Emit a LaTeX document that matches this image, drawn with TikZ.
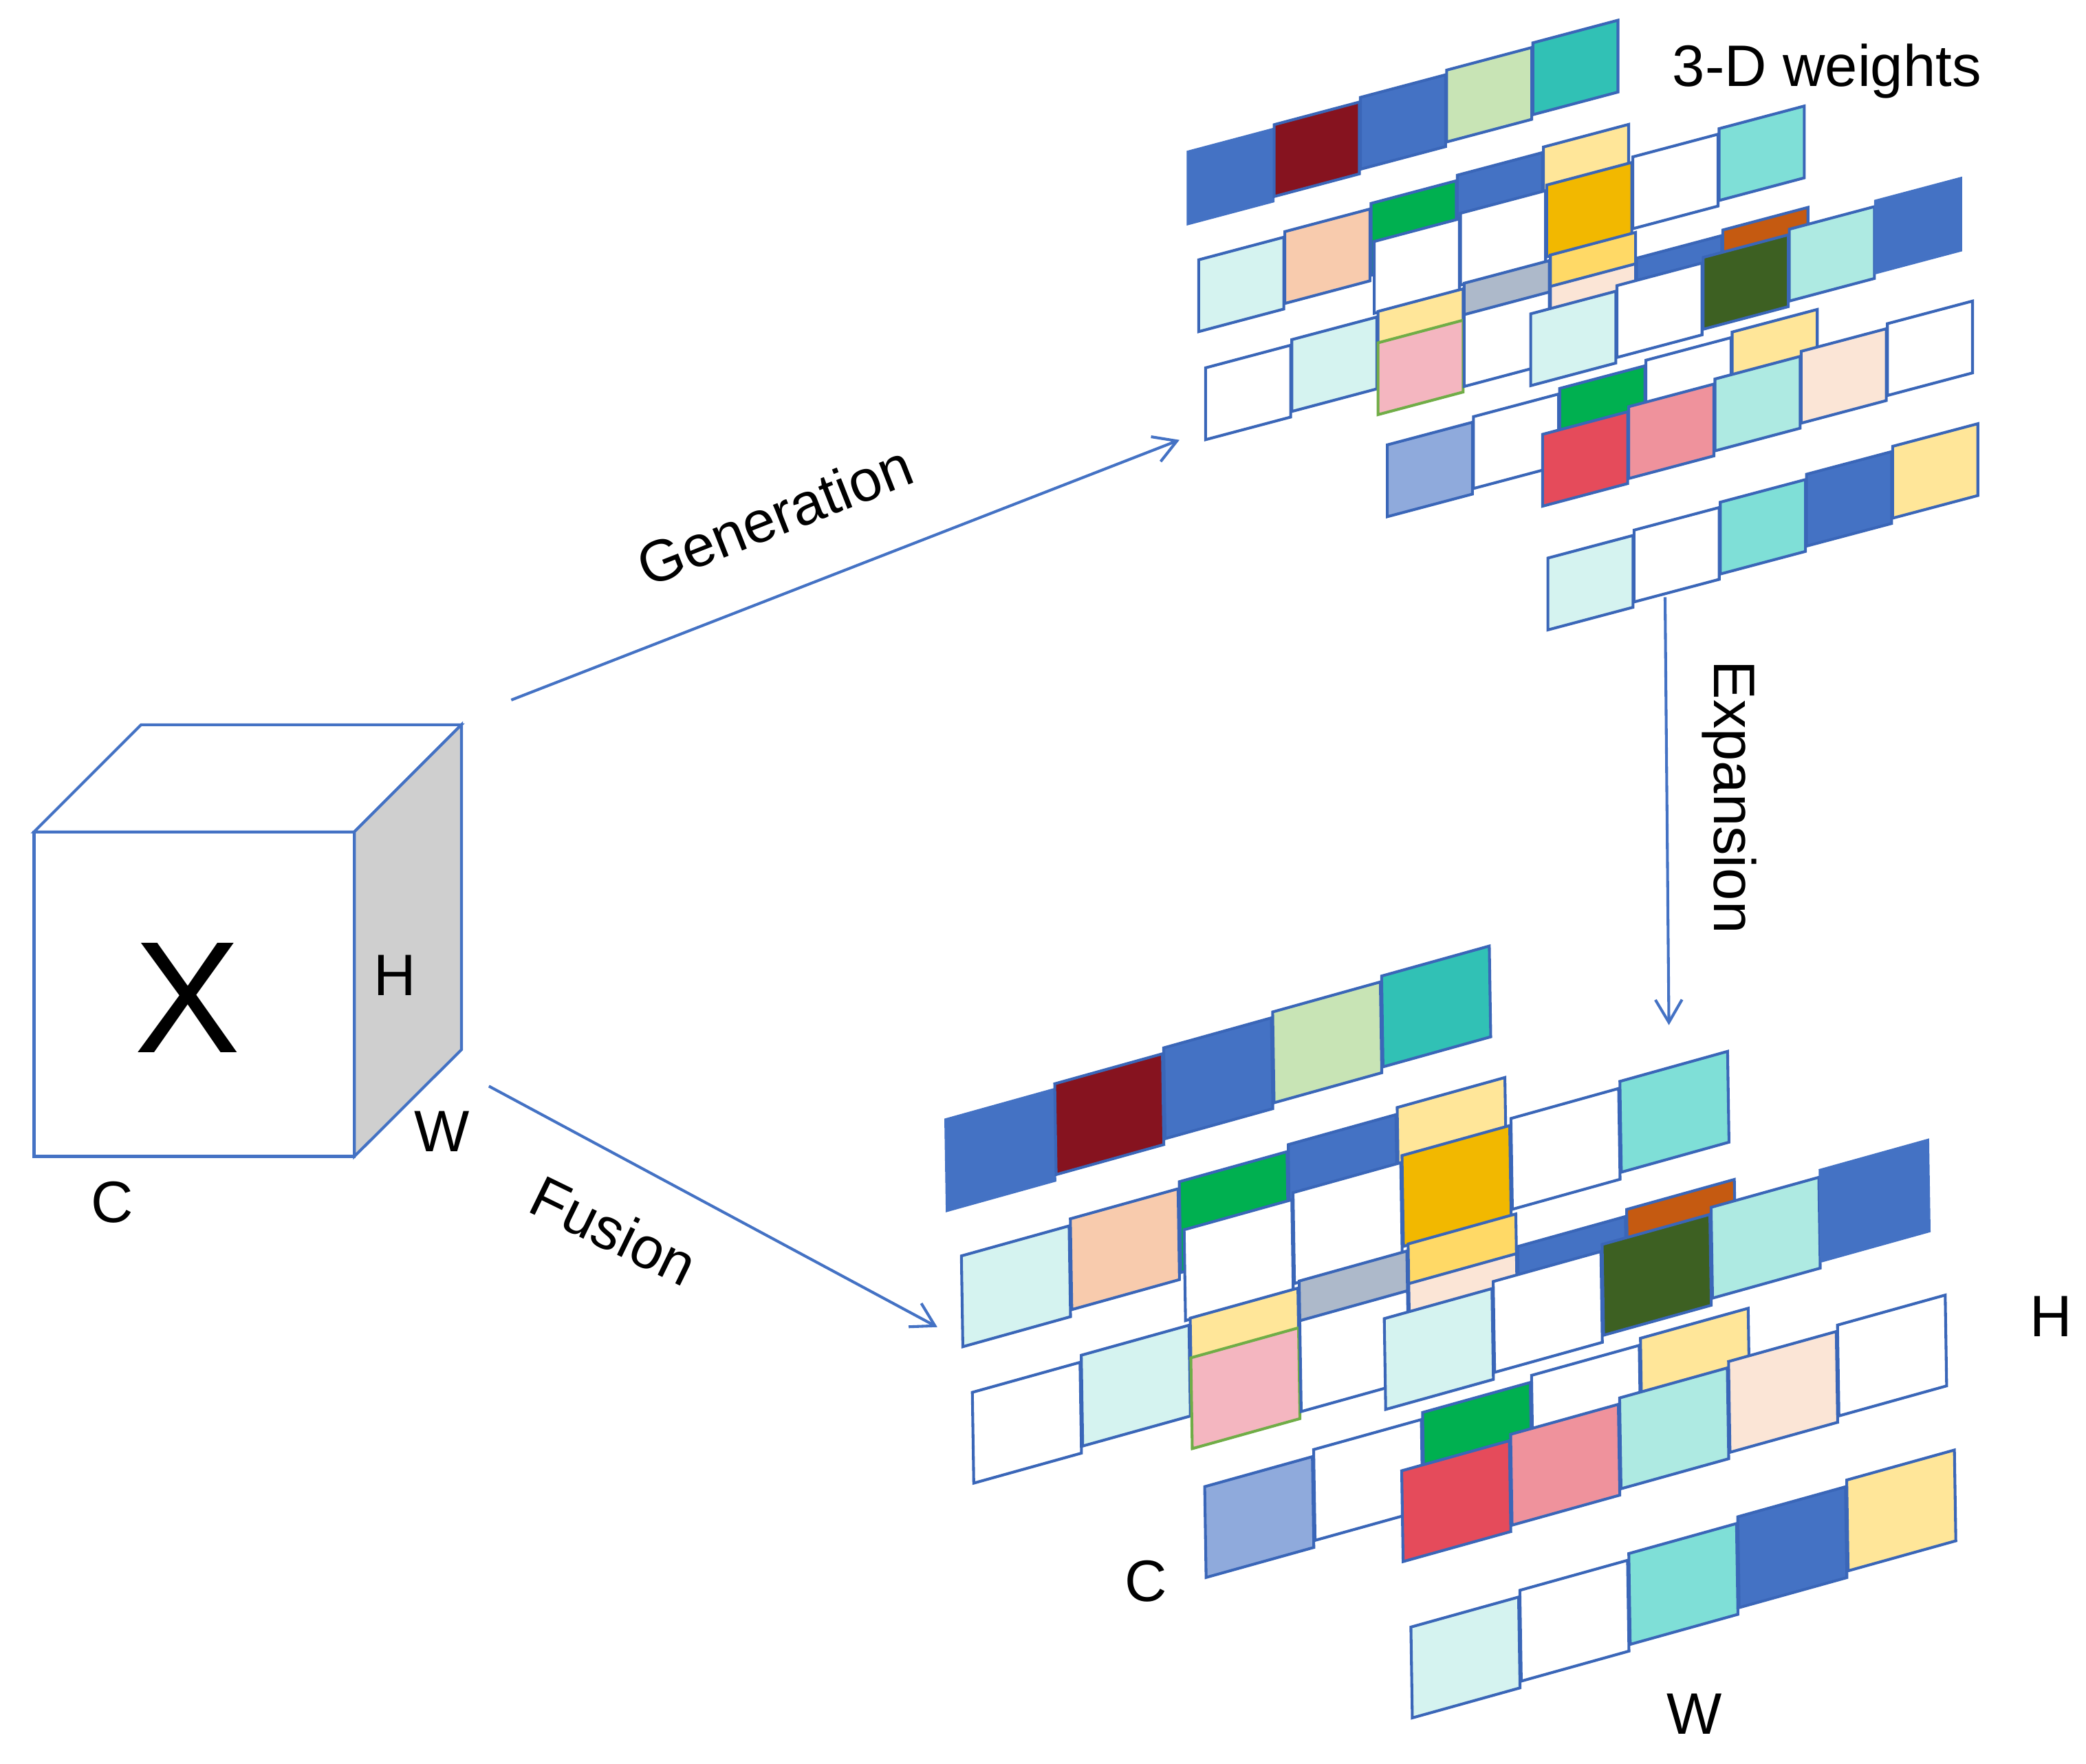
\documentclass[tikz,border=0pt]{standalone}
\usepackage{fontspec}
\setmainfont{Liberation Sans}
\usetikzlibrary{arrows.meta}

\definecolor{tileline}{HTML}{3A66B8}
\definecolor{cubeblue}{HTML}{4472C4}
\definecolor{cubegray}{HTML}{CFCFCF}
\definecolor{wblue}{HTML}{4472C4}
\definecolor{wdarkred}{HTML}{86131F}
\definecolor{wltgreen}{HTML}{C8E4B5}
\definecolor{wteal}{HTML}{31C1B5}
\definecolor{wltcyan}{HTML}{D5F3F0}
\definecolor{wpeach}{HTML}{F8CBAD}
\definecolor{wgreen}{HTML}{00B050}
\definecolor{wltyellow}{HTML}{FFE699}
\definecolor{wamber}{HTML}{F2B800}
\definecolor{wtealmid}{HTML}{7FDFD7}
\definecolor{wgray}{HTML}{ADB9CA}
\definecolor{wgold}{HTML}{FFD966}
\definecolor{wpink}{HTML}{F4B6C0}
\definecolor{wpinkline}{HTML}{70AD47}
\definecolor{wpeachlt}{HTML}{FBE5D6}
\definecolor{worange}{HTML}{C55A11}
\definecolor{wdkgreen}{HTML}{3D6022}
\definecolor{wtealpale}{HTML}{AEEAE2}
\definecolor{wperi}{HTML}{8FAADC}
\definecolor{wred}{HTML}{E54B5B}
\definecolor{wsalmon}{HTML}{EF929C}

\newcommand{\tile}[4][tileline]{%
  \filldraw[fill=#4, draw=#1, line width=0.6pt] (#2,#3) -- ++(64,-17) -- ++(0,54) -- ++(-64,17) -- cycle;}

\newcommand{\weightset}{%
  \tile[wblue]{893}{114.2}{wblue}
  \tile{957.8}{93.7}{wdarkred}
  \tile{1022.6}{73.2}{wblue}
  \tile{1087.4}{52.7}{wltgreen}
  \tile{1152.2}{32.2}{wteal}
  \tile{901}{195.3}{wltcyan}
  \tile{965.8}{174.1}{wpeach}
  \tile{1030.6}{152.9}{wgreen}
  \tile{1095.4}{131.7}{wblue}
  \tile{1160.2}{110.5}{wltyellow}
  \tile{1033}{181.5}{white}
  \tile{1097.8}{160.3}{white}
  \tile{1162.6}{139.1}{wamber}
  \tile{1227.4}{117.9}{white}
  \tile{1292.2}{96.7}{wtealmid}
  \tile{906.2}{276.5}{white}
  \tile{971}{255.3}{wltcyan}
  \tile{1035.8}{234.1}{wltyellow}
  \tile{1100.6}{212.9}{wgray}
  \tile{1165.4}{191.7}{wgold}
  \tile[wpinkline]{1035.8}{257.7}{wpink}
  \tile{1100.6}{236.5}{white}
  \tile{1165.4}{215.3}{wpeachlt}
  \tile{1230.2}{194.1}{wblue}
  \tile{1295}{172.9}{worange}
  \tile{1150.6}{235.9}{wltcyan}
  \tile{1215.4}{214.7}{white}
  \tile{1280.2}{193.5}{wdkgreen}
  \tile{1345}{172.3}{wtealpale}
  \tile[wblue]{1409.8}{151.1}{wblue}
  \tile{1042.8}{334.4}{wperi}
  \tile{1107.6}{313.2}{white}
  \tile{1172.4}{292}{wgreen}
  \tile{1237.2}{270.8}{white}
  \tile{1302}{249.6}{wltyellow}
  \tile{1159.5}{326.5}{wred}
  \tile{1224.3}{305.7}{wsalmon}
  \tile{1289.1}{284.9}{wtealpale}
  \tile{1353.9}{264.1}{wpeachlt}
  \tile{1418.7}{243.3}{white}
  \tile{1163.5}{419.5}{wltcyan}
  \tile{1228.3}{398.5}{white}
  \tile{1293.1}{377.5}{wtealmid}
  \tile{1357.9}{356.5}{wblue}
  \tile{1422.7}{335.5}{wltyellow}
}

\begin{document}
\begin{tikzpicture}[x=0.01cm, y=-0.01cm,
    every node/.style={font=\fontsize{12.5}{15}\selectfont},
    flow/.style={draw=cubeblue, line width=0.6pt, -{Straight Barb[length=1.7mm,width=2mm]}}]
\useasboundingbox (0,0) rectangle (1568,1326);

\filldraw[fill=white, draw=cubeblue, line width=0.6pt] (25.6,625.3) -- (106.1,544.8) -- (346.9,544.8) -- (266.4,625.3) -- cycle;
\filldraw[fill=cubegray, draw=cubeblue, line width=0.6pt] (266.4,625.3) -- (346.9,544.8) -- (346.9,789) -- (266.4,869.3) -- cycle;
\filldraw[fill=white, draw=cubeblue, line width=0.6pt] (25.6,625.3) rectangle (266.4,869.3);
\node (x) at (141.2,749.9) {\fontsize{34}{40}\selectfont X};
\node (cubeh) at (296.8,733.4) {H};
\node (cubew) at (332.4,850.8) {W};
\node (cubec) at (84.4,904) {C};

\weightset
\begin{scope}[shift={(710.9,841.7)}, x={(0.0127cm,0.00017cm)}, y={(0.0002cm,-0.01264cm)}, shift={(-893,-114.2)}]
\weightset
\end{scope}

\node[anchor=base west, inner sep=0pt] (title) at (1256.5,64.7) {3-D weights};
\node (setc) at (861.4,1188.5) {C};
\node (seth) at (1541.6,989.6) {H};
\node (setw) at (1273.5,1288.3) {W};

\coordinate (genfrom) at (384.3,526.2);
\coordinate (gento) at (886.6,330.7);
\coordinate (fusfrom) at (367.5,816.5);
\coordinate (fusto) at (704.6,997.6);
\coordinate (expfrom) at (1251.6,448.9);
\coordinate (expto) at (1254.5,770.6);
\draw[flow] (genfrom) -- (gento);
\draw[flow] (fusfrom) -- (fusto);
\draw[flow] (expfrom) -- (expto);
\node[rotate=21.5, anchor=base] (gen) at (588,402) {Generation};
\node[rotate=-26, anchor=base] (fus) at (454.6,939.2) {Fusion};
\node[rotate=-90, anchor=base] (exp) at (1288.6,599.1) {Expansion};
\end{tikzpicture}
\end{document}
